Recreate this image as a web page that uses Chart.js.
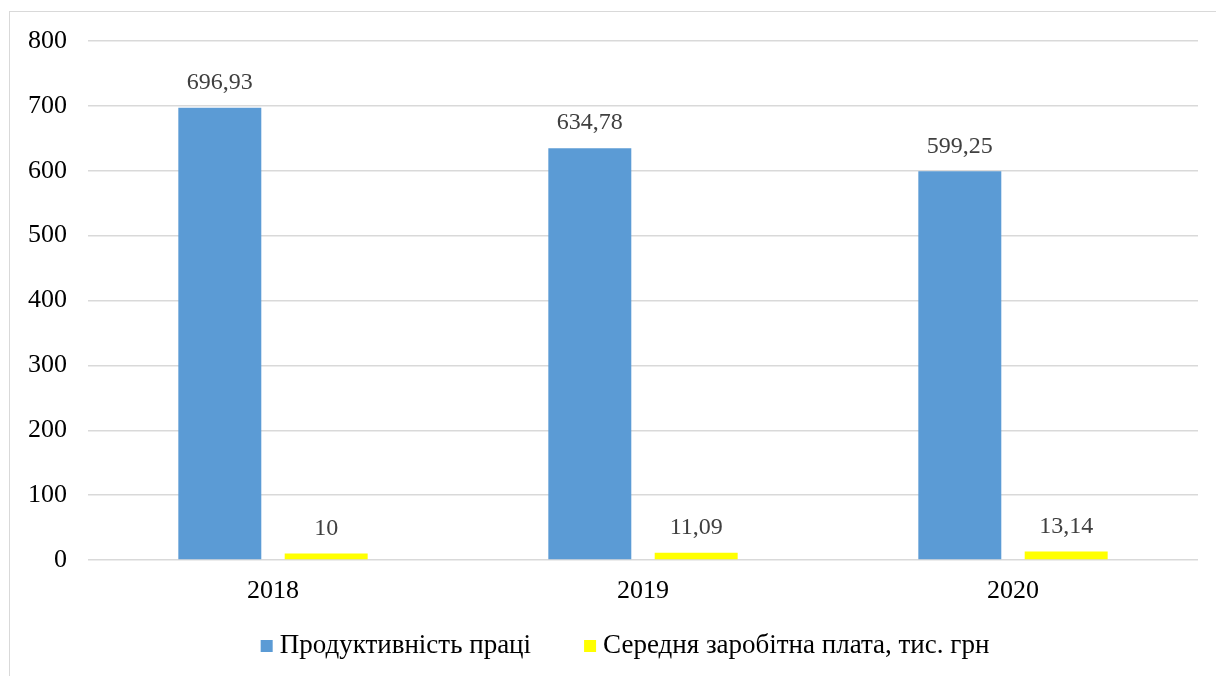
<!DOCTYPE html>
<html>
<head>
<meta charset="utf-8">
<script src="https://cdn.jsdelivr.net/npm/chart.js@4.4.0/dist/chart.umd.min.js"></script>
<style>
  html, body { margin: 0; padding: 0; background: #fff; overflow: hidden; }
  #frame { position: absolute; left: 9px; top: 11px; width: 1240px; height: 700px; border: 1px solid #d9d9d9; }
  #wrap { position: absolute; left: 0; top: 0; width: 1216px; height: 676px; }
</style>
</head>
<body>
<div id="frame"></div>
<div id="wrap"><canvas id="chart"></canvas></div>
<script>
const years = ['2018', '2019', '2020'];
const productivity = [696.93, 634.78, 599.25];
const avgSalary = [10, 11.09, 13.14];
const seriesNames = ['Продуктивність праці', 'Середня заробітна плата, тис. грн'];
const yTicks = [0, 100, 200, 300, 400, 500, 600, 700, 800];

const FONT = "'Liberation Serif', 'Times New Roman', serif";

// value labels above bars, with comma decimals
const valueLabels = {
    id: 'valueLabels',
    afterDatasetsDraw(chart) {
        const ctx = chart.ctx;
        ctx.save();
        ctx.font = `24px ${FONT}`;
        ctx.fillStyle = '#404040';
        ctx.textAlign = 'center';
        ctx.textBaseline = 'middle';
        chart.data.datasets.forEach((ds, i) => {
            chart.getDatasetMeta(i).data.forEach((bar, j) => {
                const txt = String(ds.data[j]).replace('.', ',');
                ctx.fillText(txt, bar.x, bar.y - 25);
            });
        });
        ctx.restore();
    }
};

// legend drawn under the axis
const bottomLegend = {
    id: 'bottomLegend',
    afterDraw(chart) {
        const ctx = chart.ctx;
        ctx.save();
        ctx.font = `27px ${FONT}`;
        ctx.textBaseline = 'middle';
        const box = 12, gap = 7, itemGap = 53;
        const items = chart.data.datasets.map(ds => ({
            label: ds.label, color: ds.backgroundColor, w: box + gap + ctx.measureText(ds.label).width
        }));
        const total = items.reduce((s, it) => s + it.w, 0) + itemGap * (items.length - 1);
        let x = 625 - total / 2;
        const y = 646;
        items.forEach(it => {
            ctx.fillStyle = it.color;
            ctx.fillRect(x, y - box / 2, box, box);
            ctx.fillStyle = '#000';
            ctx.fillText(it.label, x + box + gap, y);
            x += it.w + itemGap;
        });
        ctx.restore();
    }
};

new Chart(document.getElementById('chart'), {
    type: 'bar',
    data: {
        labels: years,
        datasets: [
            { label: seriesNames[0], data: productivity, backgroundColor: '#5B9BD5' },
            { label: seriesNames[1], data: avgSalary, backgroundColor: '#FFFF00' }
        ]
    },
    options: {
        responsive: true,
        maintainAspectRatio: false,
        animation: false,
        categoryPercentage: 0.575,
        barPercentage: 0.78,
        layout: { padding: { top: 41, left: 0, right: 18, bottom: 72 } },
        plugins: {
            legend: { display: false },
            tooltip: { enabled: false }
        },
        scales: {
            x: {
                grid: { display: false, drawTicks: false },
                border: { display: false },
                ticks: { color: '#000', font: { family: FONT, size: 26 }, padding: 16 },
                afterFit(scale) { scale.height = 44; }
            },
            y: {
                min: 0,
                max: 800,
                afterBuildTicks(scale) { scale.ticks = yTicks.map(v => ({ value: v })); },
                grid: { color: '#d9d9d9', lineWidth: 1.5, drawTicks: false },
                border: { display: false },
                ticks: { color: '#000', font: { family: FONT, size: 26 }, padding: 21 },
                afterFit(scale) { scale.width = 88; }
            }
        }
    },
    plugins: [valueLabels, bottomLegend]
});
</script>
</body>
</html>
